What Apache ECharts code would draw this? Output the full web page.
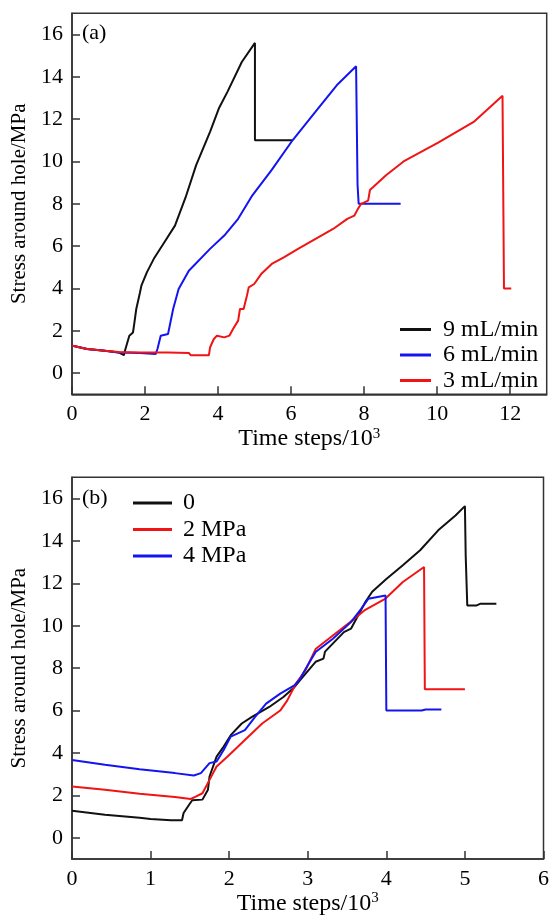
<!DOCTYPE html>
<html>
<head>
<meta charset="utf-8">
<script src="https://cdn.jsdelivr.net/npm/echarts@6/dist/echarts.min.js"></script>
<style>
html,body{margin:0;padding:0;background:#fff;}
#chart{width:552px;height:918px;}
</style>
</head>
<body>
<div id="chart"></div>
<script>
// ---- data: panel (a) flow rates ----
const nameA = ['9 mL/min', '6 mL/min', '3 mL/min'];
const a9 = [[0,1.3],[0.08,1.27],[0.41,1.14],[0.9,1.06],[1.28,0.98],[1.42,0.85],[1.45,1.06],[1.57,1.77],[1.67,1.92],[1.71,2.4],[1.76,3.03],[1.86,3.8],[1.9,4.13],[2.05,4.76],[2.24,5.4],[2.53,6.18],[2.82,6.97],[3.11,8.3],[3.4,9.83],[3.78,11.4],[4.02,12.5],[4.26,13.3],[4.65,14.7],[5.01,15.6],[5.01,11.0],[6.03,11.0]];
const a6 = [[0,1.3],[0.08,1.27],[0.41,1.14],[0.9,1.06],[1.28,0.98],[1.86,0.95],[2.29,0.9],[2.34,1.14],[2.43,1.77],[2.63,1.85],[2.77,3.03],[2.92,3.97],[3.2,4.84],[3.78,5.87],[4.17,6.5],[4.55,7.29],[4.94,8.4],[5.47,9.6],[6.04,11.0],[6.67,12.35],[7.25,13.6],[7.78,14.5],[7.82,14.5],[7.82,8.9],[7.85,8.0],[9.0,8.0]];
const a3 = [[0,1.3],[0.08,1.27],[0.41,1.14],[0.9,1.06],[1.28,1.0],[1.86,0.97],[2.63,0.98],[3.2,0.95],[3.25,0.85],[3.75,0.85],[3.78,1.21],[3.88,1.6],[3.97,1.77],[4.17,1.69],[4.31,1.77],[4.41,2.08],[4.55,2.48],[4.6,3.03],[4.7,3.03],[4.79,3.66],[4.84,4.05],[4.99,4.21],[5.18,4.68],[5.47,5.16],[5.8,5.47],[6.19,5.87],[6.67,6.34],[7.15,6.81],[7.54,7.29],[7.73,7.44],[7.83,7.76],[7.92,8.0],[8.11,8.15],[8.16,8.65],[8.6,9.35],[9.08,10.0],[10.04,10.9],[11.0,11.87],[11.79,13.1],[11.83,13.1],[11.83,4.0],[12.03,4.0]];
// ---- data: panel (b) confining pressure ----
const nameB = ['0', '2 MPa', '4 MPa'];
const b0 = [[0,1.28],[0.42,1.09],[0.86,0.94],[1.0,0.89],[1.26,0.83],[1.4,0.83],[1.42,1.17],[1.49,1.56],[1.53,1.77],[1.66,1.8],[1.73,2.27],[1.75,2.89],[1.84,3.83],[1.93,4.3],[2.02,4.84],[2.16,5.39],[2.29,5.7],[2.51,6.17],[2.69,6.64],[2.83,7.1],[2.9,7.42],[3.1,8.3],[3.2,8.45],[3.22,8.78],[3.46,9.7],[3.55,9.86],[3.73,11.1],[3.82,11.6],[4.0,12.2],[4.21,12.85],[4.43,13.56],[4.66,14.5],[4.88,15.2],[5.0,15.64],[5.01,13.3],[5.03,10.96],[5.15,10.96],[5.2,11.04],[5.4,11.04]];
const b2 = [[0,2.42],[0.42,2.27],[0.86,2.08],[1.31,1.92],[1.51,1.83],[1.58,1.95],[1.66,2.1],[1.75,2.73],[1.84,3.36],[1.98,3.83],[2.2,4.61],[2.42,5.39],[2.65,6.0],[2.74,6.48],[2.85,7.27],[2.97,7.9],[3.1,8.9],[3.32,9.54],[3.54,10.17],[3.72,10.72],[3.99,11.28],[4.21,12.06],[4.48,12.77],[4.49,12.77],[4.49,7.0],[5.0,7.0]];
const b4 = [[0,3.67],[0.42,3.44],[0.86,3.23],[1.31,3.05],[1.55,2.94],[1.64,3.05],[1.75,3.52],[1.84,3.6],[1.93,4.14],[2.02,4.77],[2.2,5.08],[2.33,5.7],[2.47,6.33],[2.65,6.8],[2.83,7.19],[2.9,7.48],[2.97,7.95],[3.1,8.76],[3.32,9.39],[3.55,10.17],[3.68,10.8],[3.77,11.27],[3.99,11.43],[4.0,11.43],[4.0,6.0],[4.45,6.0],[4.5,6.05],[4.7,6.05]];
// ---- ticks ----
const yTicks = [0,2,4,6,8,10,12,14,16];
const xTicksA = [0,2,4,6,8,10,12];
const xTicksB = [0,1,2,3,4,5,6];
const yTitle = 'Stress around hole/MPa';
const xTitle = 'Time steps/10{sup|3}';
const colors = ['#111111', '#1414f0', '#f01414'];
const colorsB = ['#111111', '#f01414', '#1414f0'];

const FONT = 'Liberation Serif';
const txt = {fontFamily: FONT, color: '#000'};

function xAxis(gi, max, ticks) {
  return {
    type: 'value', gridIndex: gi, min: 0, max: max,
    name: xTitle, nameLocation: 'middle', nameGap: 30,
    nameTextStyle: Object.assign({fontSize: 24, rich: {sup: {fontFamily: FONT, fontSize: 15, color: '#000', verticalAlign: 'top', padding: [0,0,11,0]}}}, txt),
    axisLine: {show: true, onZero: false, lineStyle: {color: '#333', width: 1.5}},
    axisTick: {show: true, inside: true, length: 8, customValues: ticks, lineStyle: {color: '#333', width: 1.5}},
    axisLabel: Object.assign({fontSize: 22, margin: 9, customValues: ticks}, txt),
    splitLine: {show: false}
  };
}
function yAxis(gi) {
  return {
    type: 'value', gridIndex: gi, min: -1, max: 17,
    name: yTitle, nameLocation: 'middle', nameGap: 40,
    nameTextStyle: Object.assign({fontSize: 21}, txt),
    axisLine: {show: true, onZero: false, lineStyle: {color: '#333', width: 1.5}},
    axisTick: {show: true, inside: true, length: 8, customValues: yTicks, lineStyle: {color: '#333', width: 1.5}},
    axisLabel: Object.assign({fontSize: 22, margin: 9, customValues: yTicks}, txt),
    splitLine: {show: false}
  };
}
function line(name, data, color, gi) {
  return {type: 'line', name: name, data: data, xAxisIndex: gi, yAxisIndex: gi,
    showSymbol: false, symbol: 'none', lineStyle: {color: color, width: 2}, itemStyle: {color: color},
    z: 3};
}
const chart = echarts.init(document.getElementById('chart'), null, {renderer: 'canvas'});
chart.setOption({
  animation: false,
  backgroundColor: '#fff',
  grid: [
    {left: 72, top: 13.3, width: 474.7, height: 381, show: true, borderColor: '#333', borderWidth: 1.5, backgroundColor: 'transparent'},
    {left: 72, top: 477.3, width: 474.7, height: 381.7, show: true, borderColor: '#333', borderWidth: 1.5, backgroundColor: 'transparent'}
  ],
  xAxis: [xAxis(0, 13, xTicksA), xAxis(1, 6, xTicksB)],
  yAxis: [yAxis(0), yAxis(1)],
  legend: [
    {data: nameA, left: 400, top: 317, padding: 0, orient: 'vertical', icon: 'rect', itemWidth: 31, itemHeight: 3, itemGap: 0.5,
      textStyle: Object.assign({fontSize: 24, lineHeight: 25, padding: [0,0,0,7]}, txt), selectedMode: false},
    {data: nameB, left: 133, top: 490.5, padding: 0, orient: 'vertical', icon: 'rect', itemWidth: 39, itemHeight: 3, itemGap: 1.5,
      textStyle: Object.assign({fontSize: 24, lineHeight: 25, padding: [0,0,0,6]}, txt), selectedMode: false}
  ],
  graphic: [
    {type: 'text', left: 82, top: 22, style: {text: '(a)', font: '22px "Liberation Serif"', fill: '#000'}},
    {type: 'text', left: 82, top: 487, style: {text: '(b)', font: '22px "Liberation Serif"', fill: '#000'}}
  ],
  series: [
    line(nameA[0], a9, colors[0], 0),
    line(nameA[1], a6, colors[1], 0),
    line(nameA[2], a3, colors[2], 0),
    line(nameB[0], b0, colorsB[0], 1),
    line(nameB[1], b2, colorsB[1], 1),
    line(nameB[2], b4, colorsB[2], 1)
  ]
});
</script>
</body>
</html>
